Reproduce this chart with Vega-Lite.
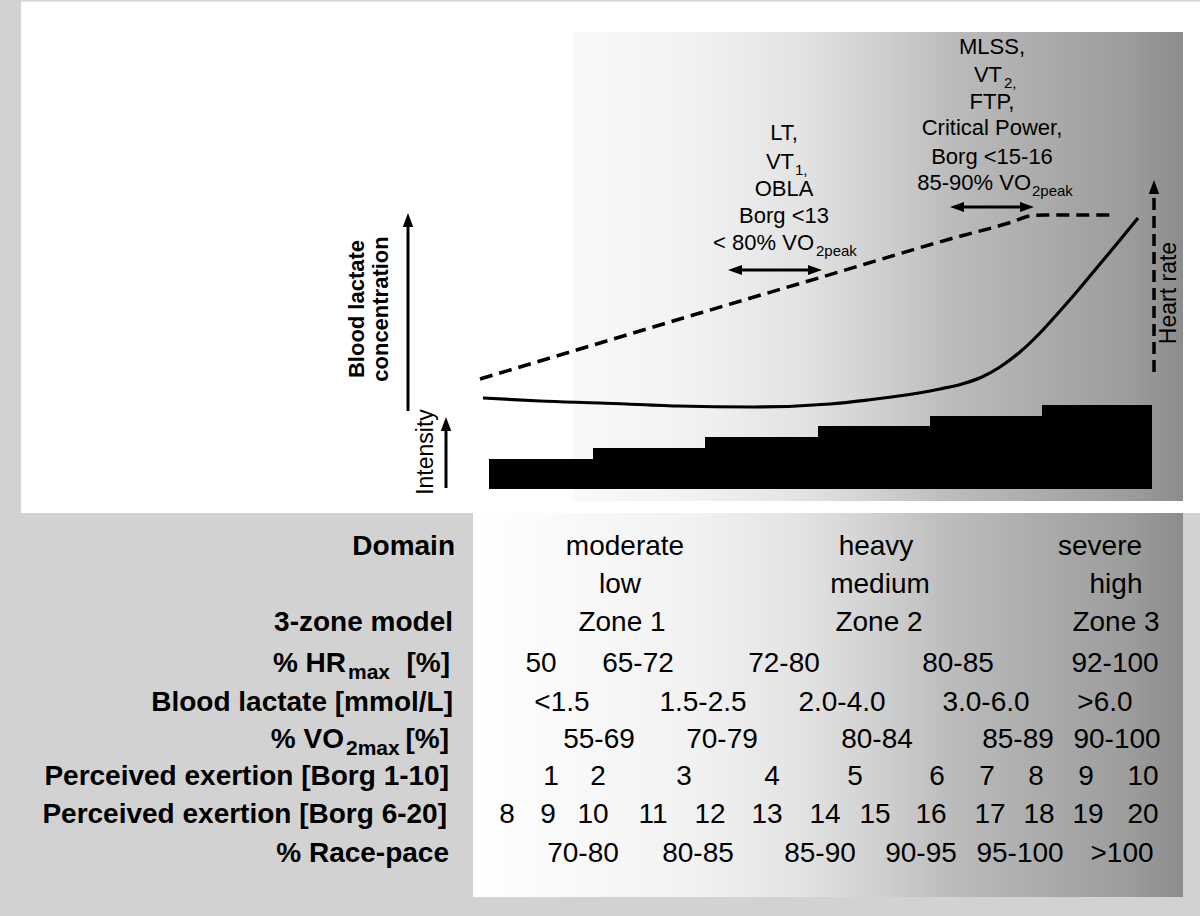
{
  "$schema": "https://vega.github.io/schema/vega-lite/v6.json",
  "width": 1200,
  "height": 916,
  "autosize": {"type": "fit", "contains": "padding"},
  "padding": 0,
  "background": "#d2d2d2",
  "config": {"view": {"stroke": null}},
  "datasets": {
    "panels": [
      {"panel": "sheet", "x0": 21, "x1": 1200, "y0": 1.5, "y1": 513},
      {"panel": "upper", "x0": 573, "x1": 1183, "y0": 32, "y1": 501},
      {"panel": "lower", "x0": 473, "x1": 1183, "y0": 513, "y1": 897}
    ],
    "steps": [
      {"step": 1, "x0": 489, "x1": 593, "y0": 459, "y1": 489},
      {"step": 2, "x0": 593, "x1": 705, "y0": 448, "y1": 489},
      {"step": 3, "x0": 705, "x1": 818, "y0": 437, "y1": 489},
      {"step": 4, "x0": 818, "x1": 930, "y0": 426, "y1": 489},
      {"step": 5, "x0": 930, "x1": 1042, "y0": 416, "y1": 489},
      {"step": 6, "x0": 1042, "x1": 1152, "y0": 405, "y1": 489}
    ],
    "heartrate": [
      {"x": 480, "y": 379}, {"x": 600, "y": 343}, {"x": 700, "y": 313}, {"x": 822, "y": 277},
      {"x": 950, "y": 239}, {"x": 1012, "y": 222}, {"x": 1030, "y": 216}, {"x": 1045, "y": 215}, {"x": 1113, "y": 215}
    ],
    "lactate": [
      {"x": 483, "y": 398}, {"x": 540, "y": 401}, {"x": 600, "y": 403}, {"x": 677, "y": 406}, {"x": 753, "y": 407},
      {"x": 830, "y": 404}, {"x": 868, "y": 400}, {"x": 906, "y": 395}, {"x": 940, "y": 389}, {"x": 962, "y": 384},
      {"x": 982, "y": 377}, {"x": 1000, "y": 367}, {"x": 1020, "y": 352}, {"x": 1040, "y": 333}, {"x": 1060, "y": 311},
      {"x": 1080, "y": 288}, {"x": 1100, "y": 264}, {"x": 1120, "y": 240}, {"x": 1138, "y": 218}
    ],
    "shafts": [
      {"id": "lactate", "x": 408, "y": 411}, {"id": "lactate", "x": 408, "y": 226},
      {"id": "intensity", "x": 446, "y": 488}, {"id": "intensity", "x": 446, "y": 428},
      {"id": "lt", "x": 734, "y": 270}, {"id": "lt", "x": 816, "y": 270},
      {"id": "mlss", "x": 956, "y": 207}, {"id": "mlss", "x": 1028, "y": 207}
    ],
    "hrshaft": [
      {"x": 1154, "y": 372}, {"x": 1154, "y": 192}
    ],
    "heads": [
      {"dir": "up", "x": 408, "y": 220},
      {"dir": "up", "x": 446, "y": 424},
      {"dir": "up", "x": 1154, "y": 187},
      {"dir": "left", "x": 735, "y": 270},
      {"dir": "right", "x": 815, "y": 270},
      {"dir": "left", "x": 957, "y": 207},
      {"dir": "right", "x": 1027, "y": 207}
    ],
    "labels": [
      {"t": "Domain", "x": 455, "y": 547},
      {"t": "3-zone model", "x": 453, "y": 623},
      {"t": "% HR", "x": 346, "y": 664},
      {"t": "[%]", "x": 450, "y": 664},
      {"t": "Blood lactate [mmol/L]", "x": 453, "y": 703},
      {"t": "% VO", "x": 344, "y": 740},
      {"t": "[%]", "x": 449, "y": 740},
      {"t": "Perceived exertion [Borg 1-10]", "x": 449, "y": 777},
      {"t": "Perceived exertion [Borg 6-20]", "x": 447, "y": 815},
      {"t": "% Race-pace", "x": 449, "y": 854}
    ],
    "labelsubs": [
      {"t": "max", "x": 348, "y": 673},
      {"t": "2max", "x": 346, "y": 749}
    ],
    "values": [
      {"t": "moderate", "x": 625, "y": 547}, {"t": "heavy", "x": 876, "y": 547}, {"t": "severe", "x": 1100, "y": 547},
      {"t": "low", "x": 620, "y": 585}, {"t": "medium", "x": 880, "y": 585}, {"t": "high", "x": 1116, "y": 585},
      {"t": "Zone 1", "x": 622, "y": 623}, {"t": "Zone 2", "x": 879, "y": 623}, {"t": "Zone 3", "x": 1116, "y": 623},
      {"t": "50", "x": 541, "y": 664}, {"t": "65-72", "x": 638, "y": 664}, {"t": "72-80", "x": 784, "y": 664}, {"t": "80-85", "x": 958, "y": 664}, {"t": "92-100", "x": 1115, "y": 664},
      {"t": "<1.5", "x": 562, "y": 703}, {"t": "1.5-2.5", "x": 703, "y": 703}, {"t": "2.0-4.0", "x": 842, "y": 703}, {"t": "3.0-6.0", "x": 986, "y": 703}, {"t": ">6.0", "x": 1105, "y": 703},
      {"t": "55-69", "x": 599, "y": 740}, {"t": "70-79", "x": 722, "y": 740}, {"t": "80-84", "x": 877, "y": 740}, {"t": "85-89", "x": 1018, "y": 740}, {"t": "90-100", "x": 1117, "y": 740},
      {"t": "1", "x": 551, "y": 777}, {"t": "2", "x": 598, "y": 777}, {"t": "3", "x": 684, "y": 777}, {"t": "4", "x": 772, "y": 777}, {"t": "5", "x": 855, "y": 777},
      {"t": "6", "x": 937, "y": 777}, {"t": "7", "x": 987, "y": 777}, {"t": "8", "x": 1036, "y": 777}, {"t": "9", "x": 1086, "y": 777}, {"t": "10", "x": 1143, "y": 777},
      {"t": "8", "x": 507, "y": 815}, {"t": "9", "x": 548, "y": 815}, {"t": "10", "x": 593, "y": 815}, {"t": "11", "x": 653, "y": 815}, {"t": "12", "x": 710, "y": 815},
      {"t": "13", "x": 767, "y": 815}, {"t": "14", "x": 825, "y": 815}, {"t": "15", "x": 875, "y": 815}, {"t": "16", "x": 931, "y": 815}, {"t": "17", "x": 990, "y": 815},
      {"t": "18", "x": 1039, "y": 815}, {"t": "19", "x": 1088, "y": 815}, {"t": "20", "x": 1143, "y": 815},
      {"t": "70-80", "x": 583, "y": 854}, {"t": "80-85", "x": 698, "y": 854}, {"t": "85-90", "x": 820, "y": 854}, {"t": "90-95", "x": 921, "y": 854}, {"t": "95-100", "x": 1020, "y": 854}, {"t": ">100", "x": 1122, "y": 854}
    ],
    "notes": [
      {"part": "center", "t": "LT,", "x": 784, "y": 133},
      {"part": "right", "t": "VT", "x": 794, "y": 162},
      {"part": "center", "t": "OBLA", "x": 784, "y": 189},
      {"part": "center", "t": "Borg <13", "x": 784, "y": 216},
      {"part": "right", "t": "< 80% VO", "x": 814, "y": 243},
      {"part": "center", "t": "MLSS,", "x": 992, "y": 47},
      {"part": "right", "t": "VT", "x": 1002, "y": 75},
      {"part": "center", "t": "FTP,", "x": 992, "y": 102},
      {"part": "center", "t": "Critical Power,", "x": 992, "y": 128},
      {"part": "center", "t": "Borg <15-16", "x": 992, "y": 157},
      {"part": "right", "t": "85-90% VO", "x": 1031, "y": 183}
    ],
    "notesubs": [
      {"t": "1,", "x": 795, "y": 170},
      {"t": "2peak", "x": 816, "y": 251},
      {"t": "2,", "x": 1004, "y": 83},
      {"t": "2peak", "x": 1032, "y": 191}
    ],
    "vertical": [
      {"kind": "bold", "t": "Blood lactate", "x": 364, "y": 309},
      {"kind": "bold", "t": "concentration", "x": 388, "y": 309},
      {"kind": "plain", "t": "Intensity", "x": 433, "y": 452},
      {"kind": "plain", "t": "Heart rate", "x": 1176, "y": 293}
    ]
  },
  "layer": [
    {
      "data": {"name": "panels"},
      "transform": [{"filter": "datum.panel === 'sheet'"}],
      "mark": {"type": "rect", "fill": "#ffffff", "stroke": null},
      "encoding": {
        "x": {"field": "x0", "type": "quantitative", "scale": {"domain": [0, 1200], "nice": false, "zero": false}, "axis": null},
        "x2": {"field": "x1"},
        "y": {"field": "y0", "type": "quantitative", "scale": {"domain": [0, 916], "nice": false, "zero": false, "reverse": true}, "axis": null},
        "y2": {"field": "y1"}
      }
    },
    {
      "data": {"name": "panels"},
      "transform": [{"filter": "datum.panel === 'upper'"}],
      "mark": {
        "type": "rect", "stroke": null,
        "fill": {"gradient": "linear", "x1": 0, "y1": 0, "x2": 1, "y2": 0, "stops": [
          {"offset": 0, "color": "#f9f9f9"},
          {"offset": 0.208, "color": "#f1f1f1"},
          {"offset": 0.372, "color": "#e3e3e3"},
          {"offset": 0.503, "color": "#d0d0d0"},
          {"offset": 0.618, "color": "#bcbcbc"},
          {"offset": 0.782, "color": "#aaaaaa"},
          {"offset": 0.913, "color": "#9c9c9c"},
          {"offset": 1, "color": "#8c8c8c"}
        ]}
      },
      "encoding": {
        "x": {"field": "x0", "type": "quantitative"},
        "x2": {"field": "x1"},
        "y": {"field": "y0", "type": "quantitative"},
        "y2": {"field": "y1"}
      }
    },
    {
      "data": {"name": "panels"},
      "transform": [{"filter": "datum.panel === 'lower'"}],
      "mark": {
        "type": "rect", "stroke": null,
        "fill": {"gradient": "linear", "x1": 0, "y1": 0, "x2": 1, "y2": 0, "stops": [
          {"offset": 0, "color": "#ffffff"},
          {"offset": 0.141, "color": "#f9f9f9"},
          {"offset": 0.32, "color": "#f1f1f1"},
          {"offset": 0.461, "color": "#e3e3e3"},
          {"offset": 0.573, "color": "#d0d0d0"},
          {"offset": 0.672, "color": "#bcbcbc"},
          {"offset": 0.813, "color": "#aaaaaa"},
          {"offset": 0.925, "color": "#9c9c9c"},
          {"offset": 1, "color": "#8c8c8c"}
        ]}
      },
      "encoding": {
        "x": {"field": "x0", "type": "quantitative"},
        "x2": {"field": "x1"},
        "y": {"field": "y0", "type": "quantitative"},
        "y2": {"field": "y1"}
      }
    },
    {
      "data": {"name": "steps"},
      "mark": {"type": "rect", "fill": "#000000", "stroke": null},
      "encoding": {
        "x": {"field": "x0", "type": "quantitative"},
        "x2": {"field": "x1"},
        "y": {"field": "y0", "type": "quantitative"},
        "y2": {"field": "y1"}
      }
    },
    {
      "data": {"name": "heartrate"},
      "mark": {"type": "line", "color": "#000000", "strokeWidth": 3.5, "strokeDash": [13, 7], "interpolate": "monotone"},
      "encoding": {
        "x": {"field": "x", "type": "quantitative"},
        "y": {"field": "y", "type": "quantitative"},
        "order": {"field": "x", "type": "quantitative"}
      }
    },
    {
      "data": {"name": "lactate"},
      "mark": {"type": "line", "color": "#000000", "strokeWidth": 3.2, "interpolate": "monotone"},
      "encoding": {
        "x": {"field": "x", "type": "quantitative"},
        "y": {"field": "y", "type": "quantitative"},
        "order": {"field": "x", "type": "quantitative"}
      }
    },
    {
      "data": {"name": "shafts"},
      "mark": {"type": "line", "color": "#000000", "strokeWidth": 3},
      "encoding": {
        "x": {"field": "x", "type": "quantitative"},
        "y": {"field": "y", "type": "quantitative"},
        "detail": {"field": "id", "type": "nominal"}
      }
    },
    {
      "data": {"name": "hrshaft"},
      "mark": {"type": "line", "color": "#000000", "strokeWidth": 3.5, "strokeDash": [12, 6]},
      "encoding": {
        "x": {"field": "x", "type": "quantitative"},
        "y": {"field": "y", "type": "quantitative"}
      }
    },
    {
      "data": {"name": "heads"},
      "transform": [{"filter": "datum.dir === 'up'"}],
      "mark": {"type": "point", "filled": true, "opacity": 1, "color": "#000000", "size": 196, "shape": "M0,-1L0.75,1L-0.75,1Z"},
      "encoding": {
        "x": {"field": "x", "type": "quantitative"},
        "y": {"field": "y", "type": "quantitative"}
      }
    },
    {
      "data": {"name": "heads"},
      "transform": [{"filter": "datum.dir === 'left'"}],
      "mark": {"type": "point", "filled": true, "opacity": 1, "color": "#000000", "size": 196, "shape": "M-1,0L1,-0.7L1,0.7Z"},
      "encoding": {
        "x": {"field": "x", "type": "quantitative"},
        "y": {"field": "y", "type": "quantitative"}
      }
    },
    {
      "data": {"name": "heads"},
      "transform": [{"filter": "datum.dir === 'right'"}],
      "mark": {"type": "point", "filled": true, "opacity": 1, "color": "#000000", "size": 196, "shape": "M1,0L-1,-0.7L-1,0.7Z"},
      "encoding": {
        "x": {"field": "x", "type": "quantitative"},
        "y": {"field": "y", "type": "quantitative"}
      }
    },
    {
      "data": {"name": "labels"},
      "mark": {"type": "text", "align": "right", "baseline": "middle", "font": "Liberation Sans, Arial, sans-serif", "fontWeight": "bold", "fontSize": 28, "color": "#000000"},
      "encoding": {
        "x": {"field": "x", "type": "quantitative"},
        "y": {"field": "y", "type": "quantitative"},
        "text": {"field": "t", "type": "nominal"}
      }
    },
    {
      "data": {"name": "labelsubs"},
      "mark": {"type": "text", "align": "left", "baseline": "middle", "font": "Liberation Sans, Arial, sans-serif", "fontWeight": "bold", "fontSize": 21, "color": "#000000"},
      "encoding": {
        "x": {"field": "x", "type": "quantitative"},
        "y": {"field": "y", "type": "quantitative"},
        "text": {"field": "t", "type": "nominal"}
      }
    },
    {
      "data": {"name": "values"},
      "mark": {"type": "text", "align": "center", "baseline": "middle", "font": "Liberation Sans, Arial, sans-serif", "fontSize": 28, "color": "#000000"},
      "encoding": {
        "x": {"field": "x", "type": "quantitative"},
        "y": {"field": "y", "type": "quantitative"},
        "text": {"field": "t", "type": "nominal"}
      }
    },
    {
      "data": {"name": "notes"},
      "transform": [{"filter": "datum.part === 'center'"}],
      "mark": {"type": "text", "align": "center", "baseline": "middle", "font": "Liberation Sans, Arial, sans-serif", "fontSize": 22, "color": "#000000"},
      "encoding": {
        "x": {"field": "x", "type": "quantitative"},
        "y": {"field": "y", "type": "quantitative"},
        "text": {"field": "t", "type": "nominal"}
      }
    },
    {
      "data": {"name": "notes"},
      "transform": [{"filter": "datum.part === 'right'"}],
      "mark": {"type": "text", "align": "right", "baseline": "middle", "font": "Liberation Sans, Arial, sans-serif", "fontSize": 22, "color": "#000000"},
      "encoding": {
        "x": {"field": "x", "type": "quantitative"},
        "y": {"field": "y", "type": "quantitative"},
        "text": {"field": "t", "type": "nominal"}
      }
    },
    {
      "data": {"name": "notesubs"},
      "mark": {"type": "text", "align": "left", "baseline": "middle", "font": "Liberation Sans, Arial, sans-serif", "fontSize": 15, "color": "#000000"},
      "encoding": {
        "x": {"field": "x", "type": "quantitative"},
        "y": {"field": "y", "type": "quantitative"},
        "text": {"field": "t", "type": "nominal"}
      }
    },
    {
      "data": {"name": "vertical"},
      "transform": [{"filter": "datum.kind === 'bold'"}],
      "mark": {"type": "text", "angle": 270, "align": "center", "baseline": "alphabetic", "font": "Liberation Sans, Arial, sans-serif", "fontWeight": "bold", "fontSize": 22, "color": "#000000"},
      "encoding": {
        "x": {"field": "x", "type": "quantitative"},
        "y": {"field": "y", "type": "quantitative"},
        "text": {"field": "t", "type": "nominal"}
      }
    },
    {
      "data": {"name": "vertical"},
      "transform": [{"filter": "datum.kind === 'plain'"}],
      "mark": {"type": "text", "angle": 270, "align": "center", "baseline": "alphabetic", "font": "Liberation Sans, Arial, sans-serif", "fontSize": 23, "color": "#000000"},
      "encoding": {
        "x": {"field": "x", "type": "quantitative"},
        "y": {"field": "y", "type": "quantitative"},
        "text": {"field": "t", "type": "nominal"}
      }
    }
  ]
}
